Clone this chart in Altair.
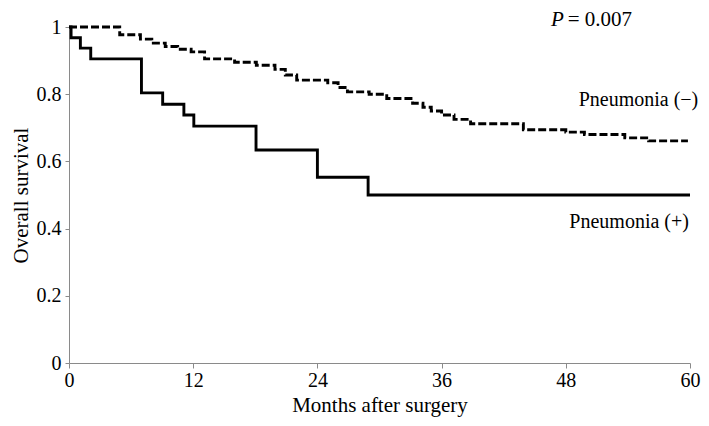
import altair as alt
import pandas as pd

# Pneumonia (-) : dashed curve (months, survival after each step)
neg_t = [0, 4.9, 6.9, 8.0, 9.3, 10.5, 11.8, 13.1, 16.0, 18.1, 19.9, 20.9, 22.0, 25.0, 26.0,
         26.9, 29.0, 30.7, 33.2, 34.2, 35.0, 36.0, 37.2, 38.8, 43.9, 48.0, 49.8, 53.7, 56.0, 59.8]
neg_s = [1.0, 0.977, 0.964, 0.952, 0.942, 0.934, 0.926, 0.905, 0.895, 0.886, 0.874, 0.857, 0.842,
         0.834, 0.820, 0.807, 0.800, 0.787, 0.773, 0.761, 0.750, 0.738, 0.725, 0.712, 0.694,
         0.687, 0.680, 0.670, 0.661, 0.661]

# Pneumonia (+) : solid curve
pos_t = [0, 0.2, 1.1, 2.1, 7.0, 9.05, 11.1, 12.06, 18.07, 24.0, 28.9, 60]
pos_s = [1.0, 0.968, 0.937, 0.905, 0.804, 0.770, 0.738, 0.705, 0.634, 0.553, 0.50, 0.50]

x_ticks = [0, 12, 24, 36, 48, 60]
y_ticks = [0, 0.2, 0.4, 0.6, 0.8, 1]

label_t = [60.8, 59.9]
label_s = [0.783, 0.42]
label_txt = ["Pneumonia (\u2212)", "Pneumonia (+)"]

p_t = [47.8]
p_s = [1.004]
p_italic = ["P"]
p_rest = ["= 0.007"]

FONT = "Liberation Serif"
AXIS_GREY = "#8a8a8a"

df_neg = pd.DataFrame({"t": neg_t, "s": neg_s})
df_pos = pd.DataFrame({"t": pos_t, "s": pos_s})
df_lab = pd.DataFrame({"t": label_t, "s": label_s, "label": label_txt})
df_p = pd.DataFrame({"t": p_t, "s": p_s, "a": p_italic, "b": p_rest})

xs = alt.Scale(domain=[0, 60], nice=False, zero=False)
ys = alt.Scale(domain=[0, 1], nice=False)

x_axis = alt.Axis(values=x_ticks, title="Months after surgery", grid=False,
                  domainColor=AXIS_GREY, tickColor=AXIS_GREY, tickSize=5,
                  labelFont=FONT, labelFontSize=20, labelColor="black", labelPadding=2,
                  titleFont=FONT, titleFontSize=21, titleFontWeight="normal",
                  titleColor="black", titlePadding=4, labelFlush=False)
y_axis = alt.Axis(values=y_ticks, title="Overall survival", grid=False, format="~g",
                  domainColor=AXIS_GREY, tickColor=AXIS_GREY, tickSize=4,
                  labelFont=FONT, labelFontSize=20, labelColor="black", labelPadding=4,
                  titleFont=FONT, titleFontSize=21, titleFontWeight="normal",
                  titleColor="black", titlePadding=5)

X = alt.X("t:Q", scale=xs, axis=x_axis)
Y = alt.Y("s:Q", scale=ys, axis=y_axis)

neg_line = alt.Chart(df_neg).mark_line(
    interpolate="step-after", color="black", strokeWidth=2.9, strokeDash=[8, 3]
).encode(x=X, y=Y)

pos_line = alt.Chart(df_pos).mark_line(
    interpolate="step-after", color="black", strokeWidth=2.9
).encode(x=X, y=Y)

labels = alt.Chart(df_lab).mark_text(
    align="right", baseline="middle", font=FONT, fontSize=20, color="black"
).encode(x=X, y=Y, text="label:N")

p_a = alt.Chart(df_p).mark_text(
    align="right", baseline="alphabetic", font=FONT, fontSize=21, fontStyle="italic",
    color="black"
).encode(x=X, y=Y, text="a:N")
p_b = alt.Chart(df_p).mark_text(
    align="left", baseline="alphabetic", font=FONT, fontSize=21, dx=4, color="black"
).encode(x=X, y=Y, text="b:N")

chart = alt.layer(neg_line, pos_line, labels, p_a, p_b).properties(
    width=621, height=336,
    autosize=alt.AutoSizeParams(type="none"),
    padding={"left": 61, "top": 19, "right": 11, "bottom": 55},
    background="white",
).configure_view(stroke=None)

chart.save("out.html", embed_options={"renderer": "svg", "actions": False})
